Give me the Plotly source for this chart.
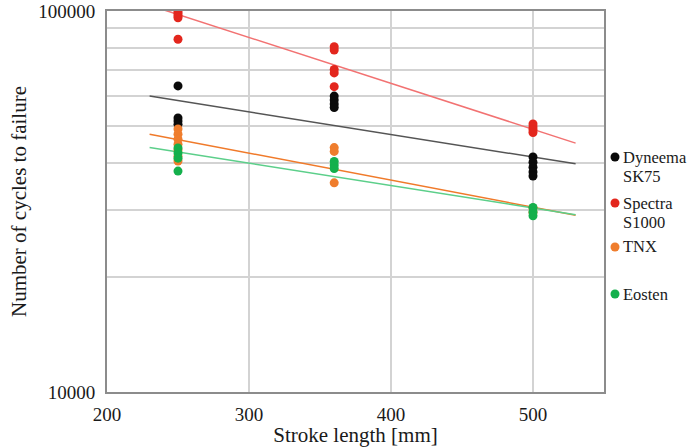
import plotly.graph_objects as go

# Fatigue test results: cycles to failure vs stroke length, per rope fibre
dyneema_x = [250, 250, 250, 250, 360, 360, 360, 360, 500, 500, 500, 500, 500]
dyneema_y = [63600, 52400, 51400, 50400, 59800, 58400, 57000, 55800,
             41400, 40100, 38900, 37800, 36900]

spectra_x = [250, 250, 250, 250, 250, 360, 360, 360, 360, 360, 500, 500, 500, 500]
spectra_y = [99600, 98300, 97100, 96000, 84300, 80600, 79000, 70200, 68800, 63300,
             50500, 49600, 48800, 48000]

tnx_x = [250, 250, 250, 250, 250, 250, 250, 360, 360, 360, 500, 500]
tnx_y = [49000, 47500, 46100, 44700, 43200, 41600, 40400, 43800, 42800, 35400,
         30400, 29600]

eosten_x = [250, 250, 250, 250, 360, 360, 360, 500, 500, 500]
eosten_y = [43700, 42400, 41100, 38000, 40300, 39400, 38600, 30500, 29700, 29000]

# Exponential trend lines (start / end values over the fitted stroke span)
trend_x = [230, 530]
dyneema_trend = [59800, 39700]
spectra_trend = [103500, 45000]
tnx_trend = [47500, 29100]
eosten_trend = [43800, 29200]

series_names = ["Dyneema<br>SK75", "Spectra<br>S1000", "TNX", "Eosten"]
x_ticks = [200, 300, 400, 500]
y_ticks = [10000, 20000, 30000, 40000, 50000, 60000, 70000, 80000, 90000, 100000]
y_ticktext = ["10000", "", "", "", "", "", "", "", "", "100000"]

dot_colors = ["#0a0a0a", "#e3261d", "#ef7d2d", "#14b04c"]
line_colors = ["#555555", "#f27272", "#f07a2a", "#5ccf8a"]

FONT = "Liberation Serif"
L, R, T, B = 107, 83, 11, 55
W, H = 687, 447
PW, PH = W - L - R, H - T - B

fig = go.Figure()

trends = [dyneema_trend, spectra_trend, tnx_trend, eosten_trend]
for vals, col in zip(trends, line_colors):
    fig.add_trace(go.Scatter(x=trend_x, y=vals, mode="lines",
                             line=dict(color=col, width=1.5),
                             showlegend=False, hoverinfo="skip"))

points = [(dyneema_x, dyneema_y), (spectra_x, spectra_y),
          (tnx_x, tnx_y), (eosten_x, eosten_y)]
for (xs, ys), col, name in zip(points, dot_colors, series_names):
    fig.add_trace(go.Scatter(x=xs, y=ys, mode="markers", name=name,
                             marker=dict(color=col, size=9, line=dict(width=0)),
                             showlegend=False))


def px_x(p):
    return (p - L) / PW


def px_y(p):
    return (H - B - p) / PH


# Legend drawn beside the plot: dot + serif label lines
legend_rows = [
    (157, ["Dyneema", "SK75"], 0),
    (203, ["Spectra", "S1000"], 1),
    (247, ["TNX"], 2),
    (294, ["Eosten"], 3),
]
shapes = []
annotations = []
for y_px, lines, idx in legend_rows:
    shapes.append(dict(type="circle", xref="paper", yref="paper",
                       xsizemode="pixel", ysizemode="pixel",
                       xanchor=px_x(615), yanchor=px_y(y_px),
                       x0=-4.5, x1=4.5, y0=-4.5, y1=4.5,
                       fillcolor=dot_colors[idx], line=dict(width=0)))
    for k, txt in enumerate(lines):
        annotations.append(dict(text=txt, xref="paper", yref="paper",
                                x=px_x(621), y=px_y(y_px + k * 19),
                                xanchor="left", yanchor="middle",
                                showarrow=False,
                                font=dict(family=FONT, size=16.5, color="#1a1a1a")))

fig.update_layout(
    width=W, height=H,
    margin=dict(l=L, r=R, t=T, b=B, autoexpand=False),
    paper_bgcolor="white", plot_bgcolor="white",
    font=dict(family=FONT, color="#1a1a1a"),
    shapes=shapes, annotations=annotations,
    showlegend=False,
)
fig.update_xaxes(
    range=[200, 550], tickvals=x_ticks, automargin=False,
    showgrid=True, gridcolor="#d3d3d3", gridwidth=1.5,
    showline=True, linecolor="#8c8c8c", linewidth=2, mirror=True,
    zeroline=False, ticks="", ticklabelstandoff=4,
    tickfont=dict(family=FONT, size=19, color="#1a1a1a"),
    title=dict(text="Stroke length [mm]", standoff=1,
               font=dict(family=FONT, size=21, color="#1a1a1a")),
)
fig.update_yaxes(
    type="log", range=[4, 5], tickvals=y_ticks, ticktext=y_ticktext,
    automargin=False,
    showgrid=True, gridcolor="#d3d3d3", gridwidth=1.5,
    showline=True, linecolor="#8c8c8c", linewidth=2, mirror=True,
    zeroline=False, ticks="", ticklabelstandoff=6,
    tickfont=dict(family=FONT, size=19, color="#1a1a1a"),
    title=dict(text="Number of cycles to failure", standoff=6,
               font=dict(family=FONT, size=21, color="#1a1a1a")),
)

fig.write_html("out.html")
